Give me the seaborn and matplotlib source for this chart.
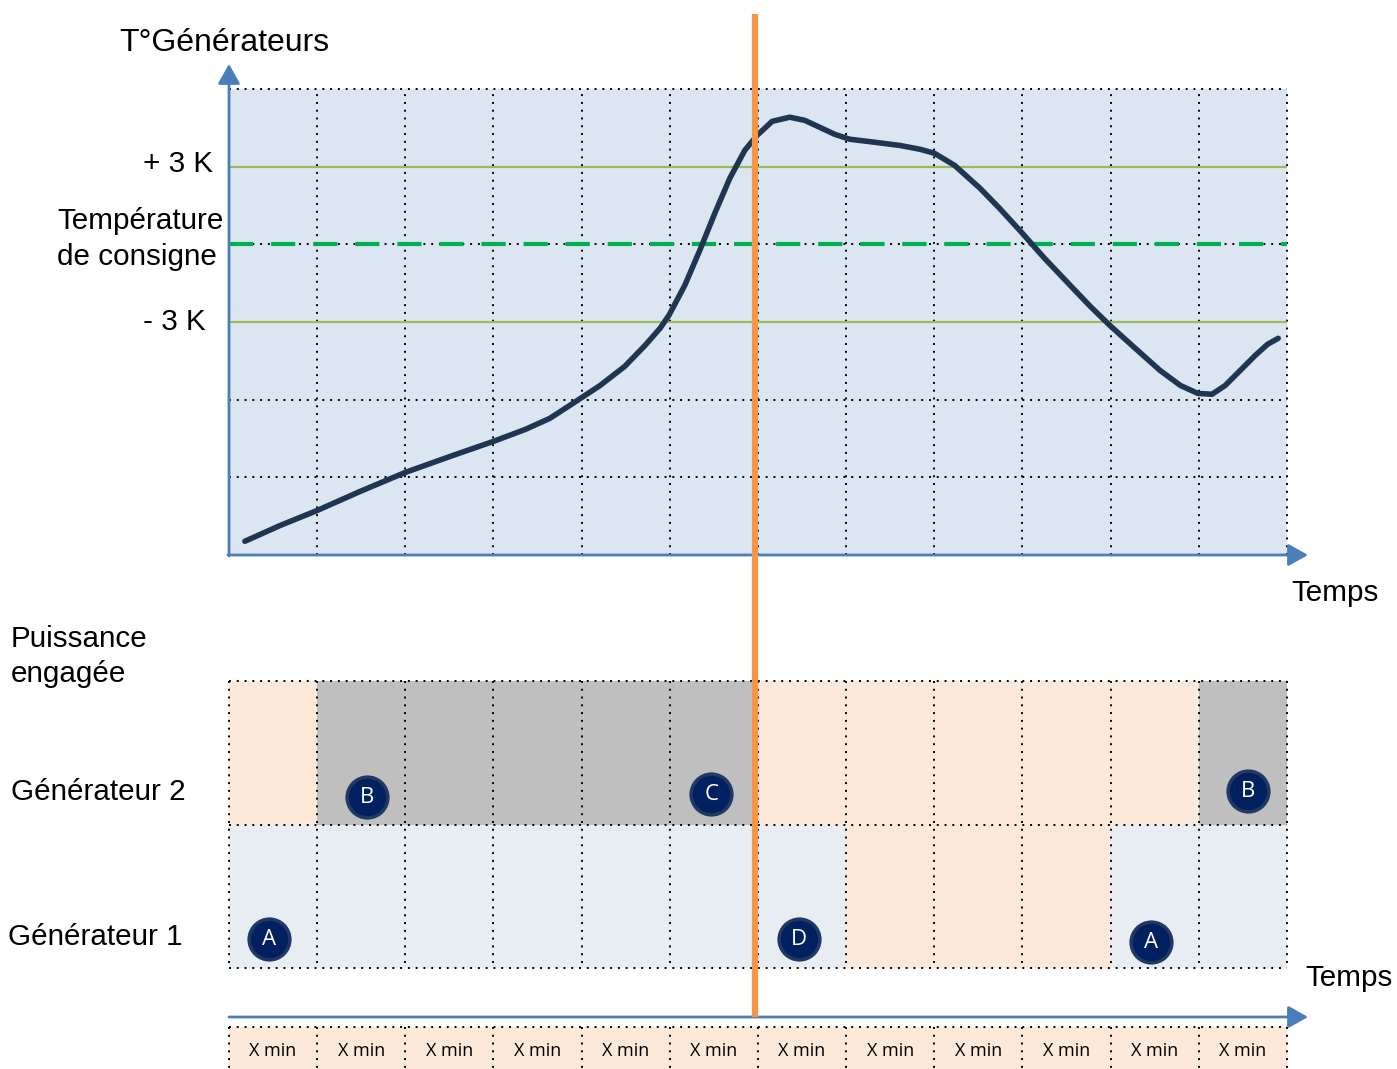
import matplotlib.pyplot as plt
import matplotlib.transforms as mtransforms
from matplotlib.colors import ListedColormap
import seaborn as sns
import numpy as np

sns.set_theme(style='white')
plt.rcParams['font.family'] = ['Liberation Sans', 'DejaVu Sans']
plt.rcParams['text.color'] = 'black'

# temperature curve: time in slots (1 slot = X min), temperature offset to setpoint (K)
curve_t = [0.18, 0.58, 1.00, 1.49, 2.00, 2.51, 3.00, 3.36, 3.64, 3.92, 4.21, 4.49,
           4.72, 4.89, 4.99, 5.17, 5.34, 5.51, 5.68, 5.85, 5.99, 6.16, 6.36, 6.53,
           6.70, 6.87, 7.04, 7.33, 7.61, 7.84, 8.00, 8.23, 8.52, 8.74, 8.99, 9.25,
           9.54, 9.77, 9.99, 10.28, 10.56, 10.79, 10.99, 11.15, 11.30, 11.47, 11.64,
           11.78, 11.90]
curve_k = [-11.47, -10.86, -10.28, -9.54, -8.81, -8.19, -7.61, -7.15, -6.72, -6.10,
           -5.45, -4.71, -3.90, -3.24, -2.74, -1.58, -0.23, 1.20, 2.55, 3.63, 4.21,
           4.75, 4.91, 4.79, 4.52, 4.25, 4.06, 3.94, 3.82, 3.67, 3.52, 3.05, 2.16,
           1.39, 0.46, -0.54, -1.58, -2.40, -3.13, -4.02, -4.87, -5.45, -5.76, -5.79,
           -5.45, -4.87, -4.29, -3.86, -3.63]

n_slots = 12
slot_labels = ['X min'] * n_slots
band_k = [3, -3]
setpoint_k = 0
temp_min, temp_max, temp_step = -12, 6, 3
now_t = 5.97

# state per slot: 0 = stopped, 1 = generator 2 running, 2 = generator 1 running
gen2_state = [0, 1, 1, 1, 1, 1, 0, 0, 0, 0, 0, 1]
gen1_state = [2, 2, 2, 2, 2, 2, 2, 0, 0, 0, 2, 2]
badge_text = ['A', 'B', 'C', 'D', 'A', 'B']
badge_t = [0.45, 1.57, 5.47, 6.46, 10.46, 11.56]
badge_row = [1.80, 0.81, 0.79, 1.80, 1.82, 0.77]

PEACH = '#FDE9D9'
GREY = '#BFBFBF'
PALE = '#E8EDF4'
TOPBG = '#DCE6F2'
BLUE = '#4A7EBB'
NAVY = '#1F3552'
ORANGE = '#F79646'
LIME = '#9BBB59'
GREEN = '#00B050'
DOT = (0, (1, 3))

W, H = 1397, 1069
fig = plt.figure(figsize=(W / 100, H / 100), dpi=100)
L, AW = 229 / W, 1058 / W

# ---- temperature panel
ax_t = fig.add_axes([L, 1 - 555 / H, AW, 466 / H])
ax_t.set_facecolor(TOPBG)
ax_t.set_xlim(0, n_slots)
ax_t.set_ylim(temp_min, temp_max)
ax_t.vlines(range(n_slots + 1), temp_min, temp_max, colors='black', lw=1.4,
            linestyles=DOT, clip_on=False)
ax_t.hlines(np.arange(temp_min, temp_max + 1, temp_step), 0, n_slots, colors='black',
            lw=1.4, linestyles=DOT, clip_on=False)
ax_t.hlines(band_k, 0, n_slots, colors=LIME, lw=1.6, zorder=3)
ax_t.plot([0, n_slots], [setpoint_k, setpoint_k], color=GREEN, lw=3,
          dashes=(5.8, 4.3), zorder=3)
sns.lineplot(x=curve_t, y=curve_k, ax=ax_t, color=NAVY, lw=4, sort=False,
             estimator=None, zorder=4, solid_joinstyle='round', solid_capstyle='round')
ax_t.set_xticks([])
ax_t.set_yticks([])
ax_t.set_xlabel('')
ax_t.set_ylabel('')
for s in ax_t.spines.values():
    s.set_visible(False)

# ---- generator panel
ax_g = fig.add_axes([L, 1 - 968 / H, AW, 287 / H])
sns.heatmap(np.array([gen2_state, gen1_state]), cmap=ListedColormap([PEACH, GREY, PALE]),
            vmin=-0.5, vmax=2.5, cbar=False, xticklabels=False, yticklabels=False, ax=ax_g)
ax_g.vlines(range(n_slots + 1), 0, 2, colors='black', lw=1.4, linestyles=DOT, clip_on=False)
ax_g.hlines([0, 1, 2], 0, n_slots, colors='black', lw=1.4, linestyles=DOT, clip_on=False)
ax_g.scatter(badge_t, badge_row, s=860, color='#002060', edgecolors='#203864',
             linewidths=2.5, zorder=5, clip_on=False)
for t, r, txt in zip(badge_t, badge_row, badge_text):
    ax_g.text(t, r, txt, color='white', ha='center', va='center', fontsize=16,
              family=['Open Sans', 'DejaVu Sans'], zorder=6)

# ---- time slots row
ax_x = fig.add_axes([L, 1 - 1075 / H, AW, 48 / H])
sns.heatmap(np.zeros((1, n_slots)), cmap=ListedColormap([PEACH]), cbar=False,
            xticklabels=False, yticklabels=False, ax=ax_x)
ax_x.vlines(range(n_slots + 1), 0, 1, colors='black', lw=1.4, linestyles=DOT, clip_on=False)
ax_x.hlines([0], 0, n_slots, colors='black', lw=1.4, linestyles=DOT, clip_on=False)
for i, lab in enumerate(slot_labels):
    ax_x.text(i + 0.5, 0.5, lab, ha='center', va='center', fontsize=13,
              family=['Open Sans', 'DejaVu Sans'])

# ---- overlay: arrows, labels, current time marker
ax_o = fig.add_axes([0, 0, 1, 1], zorder=10)
ax_o.set_xlim(0, W)
ax_o.set_ylim(H, 0)
ax_o.axis('off')
arrow = dict(arrowstyle='-|>,head_length=0.8,head_width=0.45', color=BLUE, lw=2,
             mutation_scale=15, shrinkA=0, shrinkB=0)
ax_o.annotate('', xy=(229, 64), xytext=(229, 556), arrowprops=arrow)
ax_o.annotate('', xy=(1308, 555), xytext=(228, 555), arrowprops=arrow)
ax_o.annotate('', xy=(1308, 1017), xytext=(229, 1017), arrowprops=arrow)

trans = mtransforms.blended_transform_factory(ax_t.transData, ax_o.transData)
ax_o.plot([now_t, now_t], [14, 1017], transform=trans, color=ORANGE, lw=4.5,
          solid_capstyle='butt', zorder=20)

fs = 21.3
ax_o.text(119, 43, 'T°Générateurs', fontsize=23, va='center')
ax_o.text(143, 164, '+ 3 K', fontsize=fs, va='center')
ax_o.text(57, 221, 'Température', fontsize=fs, va='center')
ax_o.text(57, 257, 'de consigne', fontsize=fs, va='center')
ax_o.text(143, 322, '- 3 K', fontsize=fs, va='center')
ax_o.text(1291, 593, 'Temps', fontsize=fs, va='center')
ax_o.text(11, 639, 'Puissance', fontsize=fs, va='center')
ax_o.text(11, 674, 'engagée', fontsize=fs, va='center')
ax_o.text(11, 792, 'Générateur 2', fontsize=fs, va='center')
ax_o.text(8, 937, 'Générateur 1', fontsize=fs, va='center')
ax_o.text(1305, 978, 'Temps', fontsize=fs, va='center')

fig.savefig('out.png', dpi=100)
